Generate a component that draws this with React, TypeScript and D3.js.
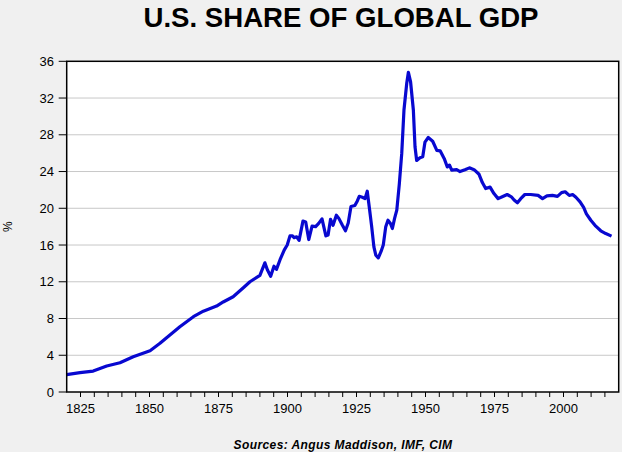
import React from "react";
import * as d3 from "d3";

const years: number[] = [
  1820, 1824.8, 1829.6, 1834.5, 1839.3, 1844.1, 1850.2, 1853.8, 1857.4, 1861, 1865.9, 1869.5, 1874.3, 1876.7, 1880.3, 1884, 1886.4,
  1890, 1891.8, 1892.7, 1893.9, 1895.1, 1896, 1897.3, 1898.8, 1899.9, 1900.9, 1901.8, 1902.4, 1903.3, 1904.2, 1905.6, 1906.6,
  1907.7, 1908.9, 1910.2, 1911.3, 1912.5, 1913.9, 1914.7, 1915.6, 1916.5, 1917.7, 1918.6, 1919.9, 1921, 1922, 1923, 1924.4,
  1925.3, 1926, 1927.1, 1928.1, 1928.9, 1929.6, 1930.5, 1931.3, 1932, 1932.9, 1933.9, 1934.7, 1935.6, 1936.4, 1937.3, 1938,
  1938.8, 1939.6, 1940.5, 1941.4, 1942.2, 1943.2, 1943.8, 1944.6, 1945.6, 1946.2, 1946.8, 1948, 1949, 1949.8, 1951, 1952.6,
  1954.1, 1955.3, 1956.8, 1957.9, 1958.7, 1959.5, 1961.3, 1962.5, 1964.3, 1965.9, 1967.6, 1969.4, 1970.6, 1971.8, 1973.4,
  1974.8, 1976.3, 1977.8, 1979.6, 1981.1, 1982.1, 1983.3, 1984.5, 1986, 1988.1, 1990.8, 1992.4, 1994, 1996, 1997.8, 1999.3,
  2000.6, 2002.1, 2003.3, 2004.5, 2006, 2007.3, 2008.3, 2009.9, 2011.7, 2013.5, 2015.3, 2017.4,
];

const shares: number[] = [
  1.9, 2.1, 2.28, 2.83, 3.19, 3.84, 4.5, 5.3, 6.2, 7.1, 8.2, 8.8, 9.35, 9.8, 10.37, 11.35, 12.0,
  12.7, 14.06, 13.3, 12.6, 13.7, 13.35, 14.4, 15.45, 16.0, 17.0, 17.0, 16.8, 16.9, 16.5, 18.6, 18.5,
  16.6, 18.05, 18.0, 18.35, 18.85, 17.0, 17.1, 18.8, 18.15, 19.25, 18.9, 18.15, 17.55, 18.4, 20.2, 20.3,
  20.8, 21.3, 21.2, 21.05, 21.86, 20.2, 18.0, 15.8, 14.9, 14.6, 15.3, 16.0, 18.0, 18.7, 18.35, 17.8,
  18.9, 19.8, 22.6, 26.0, 30.7, 33.6, 34.8, 33.75, 30.7, 26.7, 25.2, 25.5, 25.6, 27.2, 27.7, 27.3,
  26.3, 26.25, 25.4, 24.5, 24.7, 24.15, 24.2, 24.0, 24.2, 24.4, 24.2, 23.7, 22.8, 22.15, 22.3,
  21.6, 21.05, 21.25, 21.5, 21.25, 20.9, 20.6, 21.05, 21.5, 21.5, 21.4, 21.05, 21.35, 21.4, 21.3, 21.7,
  21.8, 21.4, 21.5, 21.2, 20.7, 20.1, 19.4, 18.7, 18.05, 17.55, 17.25, 16.97,
];

const yTicks: number[] = [0, 4, 8, 12, 16, 20, 24, 28, 32, 36];
const xLabelTicks: number[] = [1825, 1850, 1875, 1900, 1925, 1950, 1975, 2000];
const xMinorTicks: number[] = d3.range(1825, 2020, 5);

const title = "U.S. SHARE OF GLOBAL GDP";
const yLabel = "%";
const source = "Sources:  Angus Maddison, IMF, CIM";

const W = 622;
const H = 452;
const left = 66.7;
const right = 618.7;
const top = 61.3;
const bottom = 392;

export default function App() {
  const x = d3.scaleLinear().domain([1820, 2020]).range([left, right]);
  const y = d3.scaleLinear().domain([0, 36]).range([bottom, top]);
  const pts: [number, number][] = years.map((yr, i) => [yr, shares[i]]);
  const line = d3
    .line<[number, number]>()
    .x((d) => x(d[0]))
    .y((d) => y(d[1]))
    .curve(d3.curveLinear);
  const font = "'Liberation Sans', Arial, sans-serif";
  return (
    <div style={{ position: "fixed", left: 0, top: 0 }}>
      <svg width={W} height={H} style={{ display: "block" }}>
        <rect x={0} y={0} width={W} height={H} fill="#f0f0f0" />
        <rect x={left} y={top} width={right - left} height={bottom - top} fill="#ffffff" />
        {yTicks
          .filter((t) => t > 0 && t < 36)
          .map((t) => (
            <line key={"g" + t} x1={left} x2={right} y1={y(t)} y2={y(t)} stroke="#c8c8c8" strokeWidth={1} />
          ))}
        <path d={line(pts) || ""} fill="none" stroke="#0808d0" strokeWidth={3.2} strokeLinejoin="round" />
        <rect x={left} y={top} width={right - left} height={bottom - top} fill="none" stroke="#000" strokeWidth={1.5} />
        {yTicks.map((t) => (
          <g key={"y" + t}>
            <line x1={left - 8} x2={left} y1={y(t)} y2={y(t)} stroke="#000" strokeWidth={1} />
            <text x={54} y={y(t)} dy="0.36em" textAnchor="end" fontFamily={font} fontSize={13} fill="#000">
              {t}
            </text>
          </g>
        ))}
        {xMinorTicks.map((t) => (
          <line key={"m" + t} x1={x(t)} x2={x(t)} y1={bottom} y2={bottom + 5} stroke="#000" strokeWidth={1} />
        ))}
        {xLabelTicks.map((t) => (
          <text key={"x" + t} x={x(t)} y={412.5} textAnchor="middle" fontFamily={font} fontSize={13} fill="#000">
            {t}
          </text>
        ))}
        <text
          transform={`translate(12, ${(top + bottom) / 2}) rotate(-90)`}
          textAnchor="middle"
          fontFamily={font}
          fontSize={12}
          fill="#000"
        >
          {yLabel}
        </text>
        <text x={341} y={26.5} textAnchor="middle" fontFamily={font} fontSize={27.6} fontWeight="bold" fill="#000">
          {title}
        </text>
        <text
          x={343}
          y={448.5}
          textAnchor="middle"
          fontFamily={font}
          fontSize={12}
          fontWeight="bold"
          fontStyle="italic"
          letterSpacing={0.4}
          fill="#000"
        >
          {source}
        </text>
      </svg>
    </div>
  );
}
